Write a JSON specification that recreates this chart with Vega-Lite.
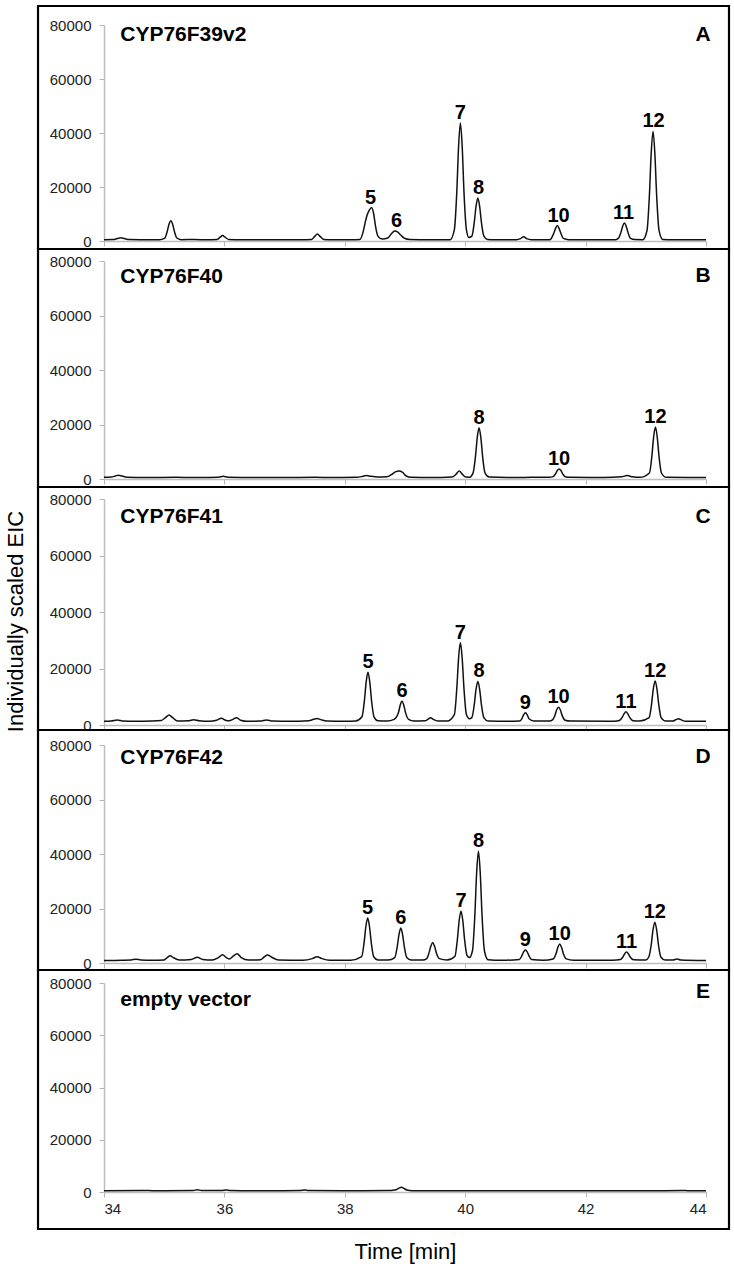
{
  "$schema": "https://vega.github.io/schema/vega-lite/v6.json",
  "padding": {"left": 4, "top": 4, "right": 5, "bottom": 5},
  "background": "white",
  "bounds": "flush",
  "spacing": 20,
  "config": {
    "view": {"stroke": null},
    "font": "Liberation Sans",
    "axis": {
      "labelFont": "Liberation Sans", "labelFontSize": 15, "labelColor": "#222",
      "domainColor": "#bdbdbd", "domainWidth": 1.5, "tickColor": "#b5b5b5", "tickSize": 5, "tickWidth": 1,
      "grid": false, "titleFont": "Liberation Sans", "titleFontWeight": "normal", "titleColor": "#000", "titleFontSize": 22
    }
  },
  "datasets": {
    "panels": [
      {"p": "A", "name": "CYP76F39v2", "tag": "A"},
      {"p": "B", "name": "CYP76F40", "tag": "B"},
      {"p": "C", "name": "CYP76F41", "tag": "C"},
      {"p": "D", "name": "CYP76F42", "tag": "D"},
      {"p": "E", "name": "empty vector", "tag": "E"}
    ],
    "peaks": [
      {"p": "A", "t": 38.43, "v": 12400, "n": "5"},
      {"p": "A", "t": 38.86, "v": 3700, "n": "6"},
      {"p": "A", "t": 39.92, "v": 43700, "n": "7"},
      {"p": "A", "t": 40.22, "v": 15900, "n": "8"},
      {"p": "A", "t": 41.55, "v": 5700, "n": "10"},
      {"p": "A", "t": 42.63, "v": 6700, "n": "11"},
      {"p": "A", "t": 43.13, "v": 40600, "n": "12"},
      {"p": "B", "t": 40.23, "v": 18800, "n": "8"},
      {"p": "B", "t": 41.56, "v": 3700, "n": "10"},
      {"p": "B", "t": 43.16, "v": 19100, "n": "12"},
      {"p": "C", "t": 38.385, "v": 18700, "n": "5"},
      {"p": "C", "t": 38.95, "v": 8400, "n": "6"},
      {"p": "C", "t": 39.92, "v": 29200, "n": "7"},
      {"p": "C", "t": 40.23, "v": 15400, "n": "8"},
      {"p": "C", "t": 41.0, "v": 4300, "n": "9"},
      {"p": "C", "t": 41.55, "v": 6300, "n": "10"},
      {"p": "C", "t": 42.67, "v": 4700, "n": "11"},
      {"p": "C", "t": 43.155, "v": 15600, "n": "12"},
      {"p": "D", "t": 38.38, "v": 16500, "n": "5"},
      {"p": "D", "t": 38.93, "v": 12800, "n": "6"},
      {"p": "D", "t": 39.93, "v": 19000, "n": "7"},
      {"p": "D", "t": 40.22, "v": 41000, "n": "8"},
      {"p": "D", "t": 41.0, "v": 4800, "n": "9"},
      {"p": "D", "t": 41.57, "v": 7000, "n": "10"},
      {"p": "D", "t": 42.68, "v": 4000, "n": "11"},
      {"p": "D", "t": 43.15, "v": 15000, "n": "12"}
    ],
    "trace": [
      {"p":"A","t":34.00,"v":500},{"p":"A","t":34.15,"v":550},{"p":"A","t":34.22,"v":900},{"p":"A","t":34.28,"v":1200},{"p":"A","t":34.34,"v":900},{"p":"A","t":34.42,"v":550},{"p":"A","t":34.60,"v":500},{"p":"A","t":34.92,"v":500},{"p":"A","t":35.01,"v":1100},{"p":"A","t":35.05,"v":3500},{"p":"A","t":35.08,"v":6200},{"p":"A","t":35.11,"v":7500},{"p":"A","t":35.14,"v":6200},{"p":"A","t":35.17,"v":3500},{"p":"A","t":35.21,"v":1100},{"p":"A","t":35.28,"v":500},{"p":"A","t":35.50,"v":550},{"p":"A","t":35.70,"v":450},{"p":"A","t":35.88,"v":600},{"p":"A","t":35.93,"v":1400},{"p":"A","t":35.97,"v":2000},{"p":"A","t":36.01,"v":1400},{"p":"A","t":36.07,"v":600},{"p":"A","t":36.30,"v":500},{"p":"A","t":36.80,"v":450},{"p":"A","t":37.20,"v":500},{"p":"A","t":37.45,"v":600},{"p":"A","t":37.50,"v":1700},{"p":"A","t":37.545,"v":2600},{"p":"A","t":37.59,"v":1700},{"p":"A","t":37.65,"v":600},{"p":"A","t":37.80,"v":450},{"p":"A","t":38.10,"v":450},{"p":"A","t":38.25,"v":550},{"p":"A","t":38.30,"v":3000},{"p":"A","t":38.34,"v":7000},{"p":"A","t":38.37,"v":9500},{"p":"A","t":38.41,"v":11500},{"p":"A","t":38.445,"v":12400},{"p":"A","t":38.48,"v":10000},{"p":"A","t":38.51,"v":5500},{"p":"A","t":38.55,"v":1800},{"p":"A","t":38.62,"v":700},{"p":"A","t":38.72,"v":1200},{"p":"A","t":38.77,"v":2600},{"p":"A","t":38.83,"v":3700},{"p":"A","t":38.88,"v":3300},{"p":"A","t":38.93,"v":2200},{"p":"A","t":38.99,"v":1000},{"p":"A","t":39.08,"v":550},{"p":"A","t":39.40,"v":450},{"p":"A","t":39.75,"v":500},{"p":"A","t":39.82,"v":4200},{"p":"A","t":39.86,"v":18000},{"p":"A","t":39.89,"v":35000},{"p":"A","t":39.92,"v":43700},{"p":"A","t":39.95,"v":35000},{"p":"A","t":39.98,"v":18000},{"p":"A","t":40.02,"v":4200},{"p":"A","t":40.06,"v":1300},{"p":"A","t":40.11,"v":1800},{"p":"A","t":40.15,"v":6800},{"p":"A","t":40.18,"v":12800},{"p":"A","t":40.21,"v":15900},{"p":"A","t":40.24,"v":12800},{"p":"A","t":40.27,"v":6800},{"p":"A","t":40.31,"v":1800},{"p":"A","t":40.37,"v":600},{"p":"A","t":40.50,"v":500},{"p":"A","t":40.85,"v":500},{"p":"A","t":40.92,"v":900},{"p":"A","t":40.97,"v":1600},{"p":"A","t":41.02,"v":900},{"p":"A","t":41.10,"v":500},{"p":"A","t":41.40,"v":500},{"p":"A","t":41.43,"v":950},{"p":"A","t":41.47,"v":2800},{"p":"A","t":41.50,"v":4600},{"p":"A","t":41.53,"v":5700},{"p":"A","t":41.56,"v":4600},{"p":"A","t":41.59,"v":2800},{"p":"A","t":41.63,"v":950},{"p":"A","t":41.72,"v":500},{"p":"A","t":42.40,"v":450},{"p":"A","t":42.50,"v":500},{"p":"A","t":42.545,"v":1000},{"p":"A","t":42.585,"v":3100},{"p":"A","t":42.615,"v":5400},{"p":"A","t":42.645,"v":6700},{"p":"A","t":42.675,"v":5400},{"p":"A","t":42.705,"v":3100},{"p":"A","t":42.745,"v":1000},{"p":"A","t":42.82,"v":550},{"p":"A","t":42.95,"v":500},{"p":"A","t":43.02,"v":3900},{"p":"A","t":43.06,"v":17000},{"p":"A","t":43.09,"v":32600},{"p":"A","t":43.12,"v":40600},{"p":"A","t":43.15,"v":32600},{"p":"A","t":43.18,"v":17000},{"p":"A","t":43.22,"v":3900},{"p":"A","t":43.28,"v":600},{"p":"A","t":43.50,"v":500},{"p":"A","t":44.00,"v":450},
      {"p":"B","t":34.00,"v":600},{"p":"B","t":34.12,"v":700},{"p":"B","t":34.19,"v":1100},{"p":"B","t":34.24,"v":1400},{"p":"B","t":34.30,"v":1100},{"p":"B","t":34.38,"v":650},{"p":"B","t":34.70,"v":550},{"p":"B","t":35.20,"v":600},{"p":"B","t":35.60,"v":550},{"p":"B","t":35.90,"v":650},{"p":"B","t":35.98,"v":1000},{"p":"B","t":36.06,"v":650},{"p":"B","t":36.50,"v":550},{"p":"B","t":37.00,"v":550},{"p":"B","t":37.50,"v":600},{"p":"B","t":37.80,"v":550},{"p":"B","t":38.20,"v":600},{"p":"B","t":38.30,"v":1000},{"p":"B","t":38.36,"v":1300},{"p":"B","t":38.43,"v":1000},{"p":"B","t":38.55,"v":700},{"p":"B","t":38.70,"v":800},{"p":"B","t":38.78,"v":1700},{"p":"B","t":38.84,"v":2600},{"p":"B","t":38.90,"v":2900},{"p":"B","t":38.96,"v":2400},{"p":"B","t":39.02,"v":1100},{"p":"B","t":39.10,"v":600},{"p":"B","t":39.60,"v":550},{"p":"B","t":39.78,"v":700},{"p":"B","t":39.85,"v":1800},{"p":"B","t":39.90,"v":2900},{"p":"B","t":39.95,"v":1800},{"p":"B","t":40.01,"v":700},{"p":"B","t":40.07,"v":650},{"p":"B","t":40.13,"v":2150},{"p":"B","t":40.17,"v":8100},{"p":"B","t":40.20,"v":15200},{"p":"B","t":40.23,"v":18800},{"p":"B","t":40.26,"v":15200},{"p":"B","t":40.29,"v":8100},{"p":"B","t":40.33,"v":2150},{"p":"B","t":40.40,"v":700},{"p":"B","t":40.70,"v":550},{"p":"B","t":41.10,"v":600},{"p":"B","t":41.40,"v":600},{"p":"B","t":41.46,"v":860},{"p":"B","t":41.50,"v":1900},{"p":"B","t":41.53,"v":3100},{"p":"B","t":41.56,"v":3700},{"p":"B","t":41.59,"v":3100},{"p":"B","t":41.62,"v":1900},{"p":"B","t":41.66,"v":860},{"p":"B","t":41.75,"v":600},{"p":"B","t":42.30,"v":550},{"p":"B","t":42.60,"v":800},{"p":"B","t":42.69,"v":1300},{"p":"B","t":42.78,"v":800},{"p":"B","t":42.90,"v":600},{"p":"B","t":43.06,"v":2200},{"p":"B","t":43.10,"v":8200},{"p":"B","t":43.13,"v":15400},{"p":"B","t":43.16,"v":19100},{"p":"B","t":43.19,"v":15400},{"p":"B","t":43.22,"v":8200},{"p":"B","t":43.26,"v":2200},{"p":"B","t":43.34,"v":600},{"p":"B","t":43.70,"v":550},{"p":"B","t":44.00,"v":550},
      {"p":"C","t":34.00,"v":1300},{"p":"C","t":34.12,"v":1400},{"p":"C","t":34.22,"v":1800},{"p":"C","t":34.32,"v":1400},{"p":"C","t":34.50,"v":1300},{"p":"C","t":34.80,"v":1400},{"p":"C","t":34.95,"v":1600},{"p":"C","t":35.02,"v":2600},{"p":"C","t":35.08,"v":3500},{"p":"C","t":35.14,"v":2600},{"p":"C","t":35.22,"v":1400},{"p":"C","t":35.40,"v":1500},{"p":"C","t":35.49,"v":1900},{"p":"C","t":35.58,"v":1500},{"p":"C","t":35.75,"v":1300},{"p":"C","t":35.87,"v":1700},{"p":"C","t":35.95,"v":2400},{"p":"C","t":36.02,"v":1700},{"p":"C","t":36.08,"v":1500},{"p":"C","t":36.14,"v":2000},{"p":"C","t":36.20,"v":2600},{"p":"C","t":36.27,"v":1700},{"p":"C","t":36.38,"v":1300},{"p":"C","t":36.60,"v":1400},{"p":"C","t":36.70,"v":1800},{"p":"C","t":36.80,"v":1400},{"p":"C","t":37.10,"v":1300},{"p":"C","t":37.40,"v":1500},{"p":"C","t":37.48,"v":2000},{"p":"C","t":37.54,"v":2300},{"p":"C","t":37.60,"v":1900},{"p":"C","t":37.70,"v":1400},{"p":"C","t":38.00,"v":1300},{"p":"C","t":38.18,"v":1400},{"p":"C","t":38.285,"v":2900},{"p":"C","t":38.325,"v":8500},{"p":"C","t":38.355,"v":15200},{"p":"C","t":38.385,"v":18700},{"p":"C","t":38.415,"v":15200},{"p":"C","t":38.445,"v":8500},{"p":"C","t":38.485,"v":2900},{"p":"C","t":38.55,"v":1500},{"p":"C","t":38.70,"v":1400},{"p":"C","t":38.82,"v":2000},{"p":"C","t":38.89,"v":4300},{"p":"C","t":38.92,"v":7000},{"p":"C","t":38.95,"v":8400},{"p":"C","t":38.98,"v":7000},{"p":"C","t":39.01,"v":4300},{"p":"C","t":39.06,"v":2000},{"p":"C","t":39.15,"v":1400},{"p":"C","t":39.33,"v":1500},{"p":"C","t":39.38,"v":2000},{"p":"C","t":39.425,"v":2600},{"p":"C","t":39.47,"v":2000},{"p":"C","t":39.55,"v":1400},{"p":"C","t":39.70,"v":1400},{"p":"C","t":39.82,"v":3700},{"p":"C","t":39.86,"v":12800},{"p":"C","t":39.89,"v":23600},{"p":"C","t":39.92,"v":29200},{"p":"C","t":39.95,"v":23600},{"p":"C","t":39.98,"v":12800},{"p":"C","t":40.02,"v":3700},{"p":"C","t":40.07,"v":2200},{"p":"C","t":40.11,"v":2600},{"p":"C","t":40.15,"v":7100},{"p":"C","t":40.18,"v":12600},{"p":"C","t":40.21,"v":15400},{"p":"C","t":40.24,"v":12600},{"p":"C","t":40.27,"v":7100},{"p":"C","t":40.31,"v":2600},{"p":"C","t":40.38,"v":1400},{"p":"C","t":40.70,"v":1300},{"p":"C","t":40.90,"v":1400},{"p":"C","t":40.94,"v":2200},{"p":"C","t":40.97,"v":3600},{"p":"C","t":41.00,"v":4300},{"p":"C","t":41.03,"v":3600},{"p":"C","t":41.06,"v":2200},{"p":"C","t":41.14,"v":1400},{"p":"C","t":41.40,"v":1400},{"p":"C","t":41.45,"v":1800},{"p":"C","t":41.49,"v":3400},{"p":"C","t":41.52,"v":5400},{"p":"C","t":41.55,"v":6300},{"p":"C","t":41.58,"v":5400},{"p":"C","t":41.61,"v":3400},{"p":"C","t":41.66,"v":1700},{"p":"C","t":41.75,"v":1400},{"p":"C","t":42.40,"v":1300},{"p":"C","t":42.55,"v":1500},{"p":"C","t":42.61,"v":2800},{"p":"C","t":42.64,"v":4000},{"p":"C","t":42.67,"v":4700},{"p":"C","t":42.70,"v":4000},{"p":"C","t":42.73,"v":2800},{"p":"C","t":42.79,"v":1500},{"p":"C","t":42.90,"v":1400},{"p":"C","t":43.055,"v":2600},{"p":"C","t":43.095,"v":7300},{"p":"C","t":43.125,"v":12800},{"p":"C","t":43.155,"v":15600},{"p":"C","t":43.185,"v":12800},{"p":"C","t":43.215,"v":7300},{"p":"C","t":43.255,"v":2600},{"p":"C","t":43.33,"v":1400},{"p":"C","t":43.45,"v":1400},{"p":"C","t":43.50,"v":1900},{"p":"C","t":43.54,"v":2200},{"p":"C","t":43.58,"v":1900},{"p":"C","t":43.66,"v":1300},{"p":"C","t":44.00,"v":1300},
      {"p":"D","t":34.00,"v":900},{"p":"D","t":34.30,"v":1000},{"p":"D","t":34.45,"v":1100},{"p":"D","t":34.53,"v":1400},{"p":"D","t":34.61,"v":1100},{"p":"D","t":34.80,"v":1000},{"p":"D","t":35.00,"v":1100},{"p":"D","t":35.05,"v":2000},{"p":"D","t":35.10,"v":2700},{"p":"D","t":35.15,"v":2000},{"p":"D","t":35.25,"v":1100},{"p":"D","t":35.45,"v":1300},{"p":"D","t":35.55,"v":2100},{"p":"D","t":35.64,"v":1300},{"p":"D","t":35.80,"v":1100},{"p":"D","t":35.90,"v":2000},{"p":"D","t":35.97,"v":3000},{"p":"D","t":36.03,"v":2000},{"p":"D","t":36.08,"v":1500},{"p":"D","t":36.15,"v":2600},{"p":"D","t":36.21,"v":3400},{"p":"D","t":36.28,"v":2000},{"p":"D","t":36.40,"v":1100},{"p":"D","t":36.60,"v":1200},{"p":"D","t":36.66,"v":2200},{"p":"D","t":36.72,"v":2900},{"p":"D","t":36.78,"v":2200},{"p":"D","t":36.90,"v":1100},{"p":"D","t":37.30,"v":1000},{"p":"D","t":37.46,"v":1600},{"p":"D","t":37.54,"v":2300},{"p":"D","t":37.62,"v":1600},{"p":"D","t":37.75,"v":1000},{"p":"D","t":38.10,"v":1000},{"p":"D","t":38.28,"v":2300},{"p":"D","t":38.32,"v":7400},{"p":"D","t":38.35,"v":13400},{"p":"D","t":38.38,"v":16500},{"p":"D","t":38.41,"v":13400},{"p":"D","t":38.44,"v":7400},{"p":"D","t":38.48,"v":2300},{"p":"D","t":38.55,"v":1100},{"p":"D","t":38.72,"v":1100},{"p":"D","t":38.83,"v":2000},{"p":"D","t":38.87,"v":5800},{"p":"D","t":38.90,"v":10400},{"p":"D","t":38.93,"v":12800},{"p":"D","t":38.96,"v":10400},{"p":"D","t":38.99,"v":5800},{"p":"D","t":39.03,"v":2000},{"p":"D","t":39.10,"v":1100},{"p":"D","t":39.30,"v":1100},{"p":"D","t":39.36,"v":1600},{"p":"D","t":39.40,"v":3800},{"p":"D","t":39.43,"v":6200},{"p":"D","t":39.46,"v":7500},{"p":"D","t":39.49,"v":6200},{"p":"D","t":39.52,"v":3800},{"p":"D","t":39.57,"v":1600},{"p":"D","t":39.70,"v":1100},{"p":"D","t":39.83,"v":2500},{"p":"D","t":39.87,"v":8600},{"p":"D","t":39.90,"v":15600},{"p":"D","t":39.93,"v":19000},{"p":"D","t":39.96,"v":15600},{"p":"D","t":39.99,"v":8600},{"p":"D","t":40.03,"v":2800},{"p":"D","t":40.07,"v":2000},{"p":"D","t":40.12,"v":4400},{"p":"D","t":40.16,"v":17400},{"p":"D","t":40.19,"v":33000},{"p":"D","t":40.22,"v":41000},{"p":"D","t":40.25,"v":33000},{"p":"D","t":40.28,"v":17400},{"p":"D","t":40.32,"v":4400},{"p":"D","t":40.38,"v":1200},{"p":"D","t":40.60,"v":1000},{"p":"D","t":40.90,"v":1300},{"p":"D","t":40.94,"v":2600},{"p":"D","t":40.97,"v":4100},{"p":"D","t":41.00,"v":4800},{"p":"D","t":41.03,"v":4100},{"p":"D","t":41.06,"v":2600},{"p":"D","t":41.10,"v":1300},{"p":"D","t":41.30,"v":1000},{"p":"D","t":41.46,"v":1500},{"p":"D","t":41.51,"v":3500},{"p":"D","t":41.54,"v":5800},{"p":"D","t":41.57,"v":7000},{"p":"D","t":41.60,"v":5800},{"p":"D","t":41.63,"v":3500},{"p":"D","t":41.68,"v":1500},{"p":"D","t":41.80,"v":1000},{"p":"D","t":42.45,"v":1000},{"p":"D","t":42.58,"v":1300},{"p":"D","t":42.62,"v":2200},{"p":"D","t":42.65,"v":3400},{"p":"D","t":42.68,"v":4000},{"p":"D","t":42.71,"v":3400},{"p":"D","t":42.74,"v":2200},{"p":"D","t":42.80,"v":1200},{"p":"D","t":43.00,"v":1100},{"p":"D","t":43.05,"v":2200},{"p":"D","t":43.09,"v":6700},{"p":"D","t":43.12,"v":12200},{"p":"D","t":43.15,"v":15000},{"p":"D","t":43.18,"v":12200},{"p":"D","t":43.21,"v":6700},{"p":"D","t":43.25,"v":2200},{"p":"D","t":43.32,"v":1100},{"p":"D","t":43.45,"v":1100},{"p":"D","t":43.52,"v":1500},{"p":"D","t":43.58,"v":1100},{"p":"D","t":44.00,"v":900},
      {"p":"E","t":34.00,"v":500},{"p":"E","t":34.60,"v":550},{"p":"E","t":35.00,"v":500},{"p":"E","t":35.48,"v":550},{"p":"E","t":35.55,"v":900},{"p":"E","t":35.62,"v":550},{"p":"E","t":35.95,"v":600},{"p":"E","t":36.03,"v":800},{"p":"E","t":36.10,"v":550},{"p":"E","t":36.60,"v":500},{"p":"E","t":37.25,"v":550},{"p":"E","t":37.33,"v":750},{"p":"E","t":37.40,"v":550},{"p":"E","t":38.00,"v":500},{"p":"E","t":38.70,"v":550},{"p":"E","t":38.85,"v":900},{"p":"E","t":38.90,"v":1500},{"p":"E","t":38.94,"v":1800},{"p":"E","t":38.98,"v":1400},{"p":"E","t":39.03,"v":800},{"p":"E","t":39.12,"v":500},{"p":"E","t":40.00,"v":500},{"p":"E","t":41.00,"v":450},{"p":"E","t":42.00,"v":500},{"p":"E","t":43.00,"v":450},{"p":"E","t":43.60,"v":600},{"p":"E","t":43.70,"v":500},{"p":"E","t":44.00,"v":450}
    ]
  },
  "vconcat": [
    {
      "width": 602, "height": 216,
      "layer": [
        {"data": {"name": "panels"}, "transform": [{"filter": "datum.p === 'A'"}], "mark": {"type": "rect", "filled": false, "stroke": "#000", "strokeWidth": 2.2},
         "encoding": {"x": {"datum": 32.904, "type": "quantitative", "scale": {"domain": [34, 44], "nice": false, "zero": false}}, "x2": {"datum": 44.382}, "y": {"datum": 87037, "type": "quantitative", "scale": {"domain": [0, 80000], "nice": false, "zero": false}}, "y2": {"datum": -2963}}},
        {"data": {"name": "trace"}, "transform": [{"filter": "datum.p === 'A'"}], "mark": {"type": "line", "interpolate": "monotone", "color": "#111", "strokeWidth": 1.5},
         "encoding": {
           "x": {"field": "t", "type": "quantitative", "scale": {"domain": [34, 44], "nice": false, "zero": false}, "axis": {"title": null, "labels": false, "values": [34, 36, 38, 40, 42, 44]}},
           "y": {"field": "v", "type": "quantitative", "scale": {"domain": [0, 80000], "nice": false, "zero": false}, "axis": {"title": null, "values": [0, 20000, 40000, 60000, 80000], "format": "d", "labelPadding": 8}}}},
        {"data": {"name": "peaks"}, "transform": [{"filter": "datum.p === 'A'"}], "mark": {"type": "text", "fontWeight": "bold", "fontSize": 20, "baseline": "alphabetic", "dy": -4, "color": "#000"},
         "encoding": {"x": {"field": "t", "type": "quantitative", "scale": {"domain": [34, 44], "nice": false, "zero": false}}, "y": {"field": "v", "type": "quantitative", "scale": {"domain": [0, 80000], "nice": false, "zero": false}}, "text": {"field": "n"}}},
        {"data": {"name": "panels"}, "transform": [{"filter": "datum.p === 'A'"}], "mark": {"type": "text", "fontWeight": "bold", "fontSize": 21, "align": "left", "baseline": "middle", "dy": 10, "color": "#000"},
         "encoding": {"x": {"datum": 34.27, "type": "quantitative", "scale": {"domain": [34, 44], "nice": false, "zero": false}}, "y": {"datum": 80000, "type": "quantitative", "scale": {"domain": [0, 80000], "nice": false, "zero": false}}, "text": {"field": "name"}}},
        {"data": {"name": "panels"}, "transform": [{"filter": "datum.p === 'A'"}], "mark": {"type": "text", "fontWeight": "bold", "fontSize": 21, "align": "center", "baseline": "middle", "dy": 10, "dx": -3, "color": "#000"},
         "encoding": {"x": {"datum": 44, "type": "quantitative", "scale": {"domain": [34, 44], "nice": false, "zero": false}}, "y": {"datum": 80000, "type": "quantitative", "scale": {"domain": [0, 80000], "nice": false, "zero": false}}, "text": {"field": "tag"}}}
      ]
    },
    {
      "width": 602, "height": 218,
      "layer": [
        {"data": {"name": "panels"}, "transform": [{"filter": "datum.p === 'B'"}], "mark": {"type": "rect", "filled": false, "stroke": "#000", "strokeWidth": 2.2},
         "encoding": {"x": {"datum": 32.904, "type": "quantitative", "scale": {"domain": [34, 44], "nice": false, "zero": false}}, "x2": {"datum": 44.382}, "y": {"datum": 84404, "type": "quantitative", "scale": {"domain": [0, 80000], "nice": false, "zero": false}}, "y2": {"datum": -2936}}},
        {"data": {"name": "trace"}, "transform": [{"filter": "datum.p === 'B'"}], "mark": {"type": "line", "interpolate": "monotone", "color": "#111", "strokeWidth": 1.5},
         "encoding": {
           "x": {"field": "t", "type": "quantitative", "scale": {"domain": [34, 44], "nice": false, "zero": false}, "axis": {"title": null, "labels": false, "values": [34, 36, 38, 40, 42, 44]}},
           "y": {"field": "v", "type": "quantitative", "scale": {"domain": [0, 80000], "nice": false, "zero": false}, "axis": {"title": null, "values": [0, 20000, 40000, 60000, 80000], "format": "d", "labelPadding": 8}}}},
        {"data": {"name": "peaks"}, "transform": [{"filter": "datum.p === 'B'"}], "mark": {"type": "text", "fontWeight": "bold", "fontSize": 20, "baseline": "alphabetic", "dy": -4, "color": "#000"},
         "encoding": {"x": {"field": "t", "type": "quantitative", "scale": {"domain": [34, 44], "nice": false, "zero": false}}, "y": {"field": "v", "type": "quantitative", "scale": {"domain": [0, 80000], "nice": false, "zero": false}}, "text": {"field": "n"}}},
        {"data": {"name": "panels"}, "transform": [{"filter": "datum.p === 'B'"}], "mark": {"type": "text", "fontWeight": "bold", "fontSize": 21, "align": "left", "baseline": "middle", "dy": 16, "color": "#000"},
         "encoding": {"x": {"datum": 34.27, "type": "quantitative", "scale": {"domain": [34, 44], "nice": false, "zero": false}}, "y": {"datum": 80000, "type": "quantitative", "scale": {"domain": [0, 80000], "nice": false, "zero": false}}, "text": {"field": "name"}}},
        {"data": {"name": "panels"}, "transform": [{"filter": "datum.p === 'B'"}], "mark": {"type": "text", "fontWeight": "bold", "fontSize": 21, "align": "center", "baseline": "middle", "dy": 15, "dx": -3, "color": "#000"},
         "encoding": {"x": {"datum": 44, "type": "quantitative", "scale": {"domain": [34, 44], "nice": false, "zero": false}}, "y": {"datum": 80000, "type": "quantitative", "scale": {"domain": [0, 80000], "nice": false, "zero": false}}, "text": {"field": "tag"}}}
      ]
    },
    {
      "width": 602, "height": 226,
      "layer": [
        {"data": {"name": "panels"}, "transform": [{"filter": "datum.p === 'C'"}], "mark": {"type": "rect", "filled": false, "stroke": "#000", "strokeWidth": 2.2},
         "encoding": {"x": {"datum": 32.904, "type": "quantitative", "scale": {"domain": [34, 44], "nice": false, "zero": false}}, "x2": {"datum": 44.382}, "y": {"datum": 84248, "type": "quantitative", "scale": {"domain": [0, 80000], "nice": false, "zero": false}}, "y2": {"datum": -1770}}},
        {"data": {"name": "trace"}, "transform": [{"filter": "datum.p === 'C'"}], "mark": {"type": "line", "interpolate": "monotone", "color": "#111", "strokeWidth": 1.5},
         "encoding": {
           "x": {"field": "t", "type": "quantitative", "scale": {"domain": [34, 44], "nice": false, "zero": false}, "axis": {"title": null, "labels": false, "values": [34, 36, 38, 40, 42, 44]}},
           "y": {"field": "v", "type": "quantitative", "scale": {"domain": [0, 80000], "nice": false, "zero": false}, "axis": {"title": "Individually scaled EIC", "titleX": -77, "titleY": 122, "titleAngle": 270, "titleBaseline": "bottom", "titleAlign": "center", "values": [0, 20000, 40000, 60000, 80000], "format": "d", "labelPadding": 8}}}},
        {"data": {"name": "peaks"}, "transform": [{"filter": "datum.p === 'C'"}], "mark": {"type": "text", "fontWeight": "bold", "fontSize": 20, "baseline": "alphabetic", "dy": -4, "color": "#000"},
         "encoding": {"x": {"field": "t", "type": "quantitative", "scale": {"domain": [34, 44], "nice": false, "zero": false}}, "y": {"field": "v", "type": "quantitative", "scale": {"domain": [0, 80000], "nice": false, "zero": false}}, "text": {"field": "n"}}},
        {"data": {"name": "panels"}, "transform": [{"filter": "datum.p === 'C'"}], "mark": {"type": "text", "fontWeight": "bold", "fontSize": 21, "align": "left", "baseline": "middle", "dy": 18, "color": "#000"},
         "encoding": {"x": {"datum": 34.27, "type": "quantitative", "scale": {"domain": [34, 44], "nice": false, "zero": false}}, "y": {"datum": 80000, "type": "quantitative", "scale": {"domain": [0, 80000], "nice": false, "zero": false}}, "text": {"field": "name"}}},
        {"data": {"name": "panels"}, "transform": [{"filter": "datum.p === 'C'"}], "mark": {"type": "text", "fontWeight": "bold", "fontSize": 21, "align": "center", "baseline": "middle", "dy": 18, "dx": -3, "color": "#000"},
         "encoding": {"x": {"datum": 44, "type": "quantitative", "scale": {"domain": [34, 44], "nice": false, "zero": false}}, "y": {"datum": 80000, "type": "quantitative", "scale": {"domain": [0, 80000], "nice": false, "zero": false}}, "text": {"field": "tag"}}}
      ]
    },
    {
      "width": 602, "height": 218,
      "layer": [
        {"data": {"name": "panels"}, "transform": [{"filter": "datum.p === 'D'"}], "mark": {"type": "rect", "filled": false, "stroke": "#000", "strokeWidth": 2.2},
         "encoding": {"x": {"datum": 32.904, "type": "quantitative", "scale": {"domain": [34, 44], "nice": false, "zero": false}}, "x2": {"datum": 44.382}, "y": {"datum": 85505, "type": "quantitative", "scale": {"domain": [0, 80000], "nice": false, "zero": false}}, "y2": {"datum": -2569}}},
        {"data": {"name": "trace"}, "transform": [{"filter": "datum.p === 'D'"}], "mark": {"type": "line", "interpolate": "monotone", "color": "#111", "strokeWidth": 1.5},
         "encoding": {
           "x": {"field": "t", "type": "quantitative", "scale": {"domain": [34, 44], "nice": false, "zero": false}, "axis": {"title": null, "labels": false, "values": [34, 36, 38, 40, 42, 44]}},
           "y": {"field": "v", "type": "quantitative", "scale": {"domain": [0, 80000], "nice": false, "zero": false}, "axis": {"title": null, "values": [0, 20000, 40000, 60000, 80000], "format": "d", "labelPadding": 8}}}},
        {"data": {"name": "peaks"}, "transform": [{"filter": "datum.p === 'D'"}], "mark": {"type": "text", "fontWeight": "bold", "fontSize": 20, "baseline": "alphabetic", "dy": -4, "color": "#000"},
         "encoding": {"x": {"field": "t", "type": "quantitative", "scale": {"domain": [34, 44], "nice": false, "zero": false}}, "y": {"field": "v", "type": "quantitative", "scale": {"domain": [0, 80000], "nice": false, "zero": false}}, "text": {"field": "n"}}},
        {"data": {"name": "panels"}, "transform": [{"filter": "datum.p === 'D'"}], "mark": {"type": "text", "fontWeight": "bold", "fontSize": 21, "align": "left", "baseline": "middle", "dy": 13, "color": "#000"},
         "encoding": {"x": {"datum": 34.27, "type": "quantitative", "scale": {"domain": [34, 44], "nice": false, "zero": false}}, "y": {"datum": 80000, "type": "quantitative", "scale": {"domain": [0, 80000], "nice": false, "zero": false}}, "text": {"field": "name"}}},
        {"data": {"name": "panels"}, "transform": [{"filter": "datum.p === 'D'"}], "mark": {"type": "text", "fontWeight": "bold", "fontSize": 21, "align": "center", "baseline": "middle", "dy": 12, "dx": -3, "color": "#000"},
         "encoding": {"x": {"datum": 44, "type": "quantitative", "scale": {"domain": [34, 44], "nice": false, "zero": false}}, "y": {"datum": 80000, "type": "quantitative", "scale": {"domain": [0, 80000], "nice": false, "zero": false}}, "text": {"field": "tag"}}}
      ]
    },
    {
      "width": 602, "height": 209,
      "layer": [
        {"data": {"name": "panels"}, "transform": [{"filter": "datum.p === 'E'"}], "mark": {"type": "rect", "filled": false, "stroke": "#000", "strokeWidth": 2.2},
         "encoding": {"x": {"datum": 32.904, "type": "quantitative", "scale": {"domain": [34, 44], "nice": false, "zero": false}}, "x2": {"datum": 44.382}, "y": {"datum": 84976, "type": "quantitative", "scale": {"domain": [0, 80000], "nice": false, "zero": false}}, "y2": {"datum": -14163}}},
        {"data": {"name": "trace"}, "transform": [{"filter": "datum.p === 'E'"}], "mark": {"type": "line", "interpolate": "monotone", "color": "#111", "strokeWidth": 1.5},
         "encoding": {
           "x": {"field": "t", "type": "quantitative", "scale": {"domain": [34, 44], "nice": false, "zero": false}, "axis": {"title": "Time [min]", "titlePadding": 25, "labelPadding": 4, "format": "d", "values": [34, 36, 38, 40, 42, 44]}},
           "y": {"field": "v", "type": "quantitative", "scale": {"domain": [0, 80000], "nice": false, "zero": false}, "axis": {"title": null, "values": [0, 20000, 40000, 60000, 80000], "format": "d", "labelPadding": 8}}}},
        {"data": {"name": "panels"}, "transform": [{"filter": "datum.p === 'E'"}], "mark": {"type": "text", "fontWeight": "bold", "fontSize": 21, "align": "left", "baseline": "middle", "dy": 17, "color": "#000"},
         "encoding": {"x": {"datum": 34.27, "type": "quantitative", "scale": {"domain": [34, 44], "nice": false, "zero": false}}, "y": {"datum": 80000, "type": "quantitative", "scale": {"domain": [0, 80000], "nice": false, "zero": false}}, "text": {"field": "name"}}},
        {"data": {"name": "panels"}, "transform": [{"filter": "datum.p === 'E'"}], "mark": {"type": "text", "fontWeight": "bold", "fontSize": 21, "align": "center", "baseline": "middle", "dy": 9, "dx": -3, "color": "#000"},
         "encoding": {"x": {"datum": 44, "type": "quantitative", "scale": {"domain": [34, 44], "nice": false, "zero": false}}, "y": {"datum": 80000, "type": "quantitative", "scale": {"domain": [0, 80000], "nice": false, "zero": false}}, "text": {"field": "tag"}}}
      ]
    }
  ]
}
